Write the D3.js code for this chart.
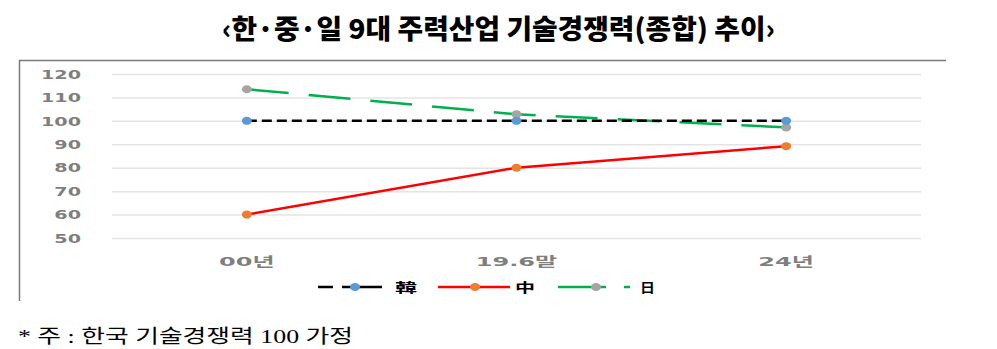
<!DOCTYPE html>
<html>
<head>
<meta charset="utf-8">
<script src="https://cdn.jsdelivr.net/npm/d3@7"></script>
<style>
  body { margin: 0; background: #fff; }
  svg { display: block; }
</style>
</head>
<body>
<div id="chart"></div>
<script>
// chart data
const categories = ["00년", "19.6말", "24년"];
const korea = [100, 100, 100];
const china = [60, 80, 89.2];
const japan = [113.5, 102.8, 97.2];
const yTicks = [50, 60, 70, 80, 90, 100, 110, 120];
const seriesNames = ["韓", "中", "日"];

const w = 997, h = 349;
const stretch = 1.6;   // tick labels in the picture are drawn wide
const xStretch = 1.85;

const svg = d3.select("#chart").append("svg")
  .attr("width", w).attr("height", h);

// title
svg.append("text")
  .attr("x", 222).attr("y", 39)
  .attr("textLength", 553).attr("lengthAdjust", "spacingAndGlyphs")
  .style("font-family", "'Noto Sans CJK KR', sans-serif")
  .style("font-weight", 900).style("font-size", "27px")
  .attr("fill", "#000")
  .text("‹한·중·일 9대 주력산업 기술경쟁력(종합) 추이›");

// frame (top + left)
svg.append("line").attr("x1", 19).attr("x2", 946).attr("y1", 60.5).attr("y2", 60.5)
  .attr("stroke", "#7a7a7a").attr("stroke-width", 1.5);
svg.append("line").attr("x1", 19.5).attr("x2", 19.5).attr("y1", 60).attr("y2", 301)
  .attr("stroke", "#7a7a7a").attr("stroke-width", 1.5);

// scales
const x = d3.scalePoint().domain(categories).range([112, 921]).padding(0.5);
const y = d3.scaleLinear().domain([50, 120]).range([238, 74]);

// y axis with gridlines
const yAxis = d3.axisLeft(y).tickValues(yTicks).tickSize(-(921 - 112)).tickPadding(0);
const gy = svg.append("g").attr("transform", "translate(112,0)").call(yAxis);
gy.select(".domain").remove();
gy.selectAll(".tick line").attr("stroke", "#e4e4e4").attr("stroke-width", 1.5);
gy.selectAll(".tick text")
  .attr("x", -31 / stretch).attr("dy", "0.35em")
  .attr("transform", `scale(${stretch},1)`)
  .attr("fill", "#7f7f7f")
  .style("font-family", "'DejaVu Sans', sans-serif")
  .style("font-weight", 700).style("font-size", "12px");

// x axis labels
const xAxis = d3.axisBottom(x).tickSize(0).tickPadding(0);
const gx = svg.append("g").call(xAxis);
gx.select(".domain").remove();
gx.selectAll(".tick").each(function(d) {
  d3.select(this).attr("transform", `translate(${x(d) / xStretch},0)`);
});
gx.attr("transform", `translate(0,255) scale(${xStretch},1)`);
gx.selectAll(".tick text")
  .attr("y", 0).attr("dy", "0.85em")
  .attr("fill", "#7f7f7f")
  .style("font-family", "'DejaVu Sans', 'Noto Sans CJK KR', sans-serif")
  .style("font-weight", 700).style("font-size", "13px");

// series
const series = [
  { name: seriesNames[0], values: korea, line: "#000000", marker: "#5b9bd5", dash: "10,5" },
  { name: seriesNames[1], values: china, line: "#ff0000", marker: "#ed7d31", dash: null },
  { name: seriesNames[2], values: japan, line: "#00b050", marker: "#a5a5a5", dash: "42,20" }
];

const lineGen = d3.line().x((d, i) => x(categories[i])).y(d => y(d));

// japan first, then china, korea on top
const order = [series[2], series[1], series[0]];
order.forEach(s => {
  svg.append("path")
    .datum(s.values)
    .attr("d", lineGen)
    .attr("fill", "none")
    .attr("stroke", s.line)
    .attr("stroke-width", 2.5)
    .attr("stroke-dasharray", s.dash);
});
order.forEach(s => {
  svg.selectAll(null)
    .data(s.values)
    .enter()
    .append("ellipse")
    .attr("cx", (d, i) => x(categories[i]))
    .attr("cy", d => y(d))
    .attr("rx", 5).attr("ry", 4)
    .attr("fill", s.marker);
});

// legend
const legendY = 287;
const legend = [
  { s: series[0], x1: 318, x2: 382, mx: 355, tx: 395, tw: 22, dash: "15,9,40" },
  { s: series[1], x1: 438, x2: 510, mx: 475, tx: 515, tw: 20, dash: null },
  { s: series[2], x1: 558, x2: 630, mx: 596, tx: 640, tw: 15, dash: "48,18,6" }
];
legend.forEach(l => {
  svg.append("line")
    .attr("x1", l.x1).attr("x2", l.x2).attr("y1", legendY).attr("y2", legendY)
    .attr("stroke", l.s.line).attr("stroke-width", 2.5)
    .attr("stroke-dasharray", l.dash);
  svg.append("ellipse")
    .attr("cx", l.mx).attr("cy", legendY).attr("rx", 5).attr("ry", 4)
    .attr("fill", l.s.marker);
  svg.append("text")
    .attr("x", l.tx).attr("y", legendY).attr("dy", "0.38em")
    .attr("textLength", l.tw).attr("lengthAdjust", "spacingAndGlyphs")
    .style("font-family", "'Noto Sans CJK KR', sans-serif")
    .style("font-weight", 700).style("font-size", "13px")
    .attr("fill", "#000")
    .text(l.s.name);
});

// footnote
svg.append("text")
  .attr("x", 18).attr("y", 343)
  .attr("textLength", 335).attr("lengthAdjust", "spacingAndGlyphs")
  .style("font-family", "'Liberation Serif', 'Noto Sans CJK KR', serif")
  .style("font-size", "19px")
  .attr("fill", "#000")
  .text("* 주 : 한국 기술경쟁력 100 가정");
</script>
</body>
</html>
